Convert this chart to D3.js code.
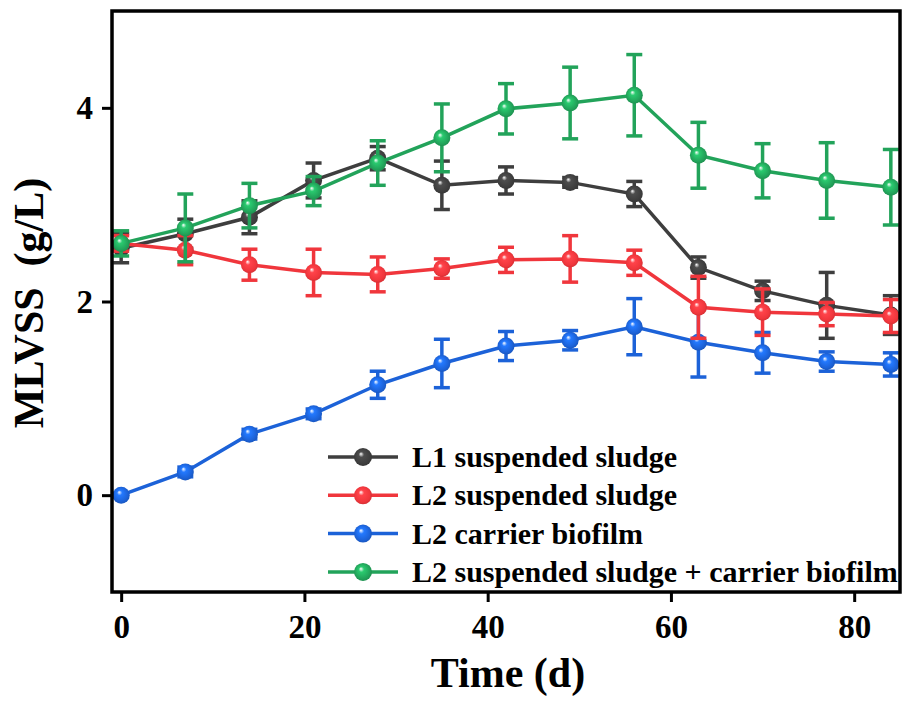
<!DOCTYPE html>
<html lang="en">
  <head>
    <meta charset="utf-8" />
    <script src="https://d3js.org/d3.v7.min.js"></script>
    <style type="text/css">
      body {
        margin: 0;
        background-color: white;
      }
      svg text {
        font-family: "Liberation Serif", "Times New Roman", serif;
        font-weight: bold;
        fill: black;
      }
    </style>
  </head>

  <body>
    <svg id="chart" width="904" height="702"></svg>

    <script>
      // sampling days
      let days = [0, 7, 14, 21, 28, 35, 42, 49, 56, 63, 70, 77, 84];

      // MLVSS (g/L) mean and error per series
      let l1Sludge = [2.55, 2.7, 2.87, 3.25, 3.48, 3.2, 3.25, 3.23, 3.11, 2.35, 2.11, 1.96, 1.86];
      let l1SludgeErr = [0.15, 0.15, 0.17, 0.18, 0.12, 0.25, 0.14, 0.05, 0.13, 0.11, 0.1, 0.34, 0.2];

      let l2Sludge = [2.6, 2.53, 2.38, 2.3, 2.28, 2.34, 2.43, 2.44, 2.4, 1.94, 1.89, 1.87, 1.85];
      let l2SludgeErr = [0.08, 0.15, 0.16, 0.24, 0.18, 0.1, 0.13, 0.24, 0.13, 0.32, 0.24, 0.12, 0.17];

      let l2Biofilm = [0, 0.24, 0.63, 0.84, 1.14, 1.36, 1.54, 1.6, 1.74, 1.58, 1.47, 1.38, 1.35];
      let l2BiofilmErr = [0.02, 0.05, 0.05, 0.05, 0.14, 0.25, 0.15, 0.1, 0.29, 0.36, 0.21, 0.1, 0.12];

      let l2Total = [2.6, 2.76, 2.99, 3.14, 3.43, 3.69, 3.99, 4.05, 4.13, 3.51, 3.35, 3.25, 3.18];
      let l2TotalErr = [0.13, 0.35, 0.23, 0.15, 0.23, 0.35, 0.26, 0.37, 0.42, 0.34, 0.28, 0.39, 0.39];

      let seriesNames = [
        "L1 suspended sludge",
        "L2 suspended sludge",
        "L2 carrier biofilm",
        "L2 suspended sludge + carrier biofilm",
      ];
      let seriesColors = ["#3e3e3e", "#f0363c", "#1c62d8", "#22a35a"];

      let xTicks = [0, 20, 40, 60, 80];
      let yTicks = [0, 2, 4];

      let series = [
        { name: seriesNames[0], color: seriesColors[0], mean: l1Sludge, err: l1SludgeErr },
        { name: seriesNames[1], color: seriesColors[1], mean: l2Sludge, err: l2SludgeErr },
        { name: seriesNames[2], color: seriesColors[2], mean: l2Biofilm, err: l2BiofilmErr },
        { name: seriesNames[3], color: seriesColors[3], mean: l2Total, err: l2TotalErr },
      ];
      // order the series are painted in (later on top)
      let drawOrder = [0, 2, 1, 3];

      let plotLeft = 112, plotRight = 900, plotTop = 11, plotBottom = 592;
      let svg = d3.select("#chart");

      let x = d3.scaleLinear([-1, 85], [plotLeft, plotRight]);
      let y = d3.scaleLinear([-1, 5], [plotBottom, plotTop]);

      // sphere-like marker gradients
      let defs = svg.append("defs");
      series.forEach(function (s, i) {
        let g = defs
          .append("radialGradient")
          .attr("id", "ball" + i)
          .attr("cx", "0.5")
          .attr("cy", "0.5")
          .attr("r", "0.6")
          .attr("fx", "0.38")
          .attr("fy", "0.32");
        g.append("stop").attr("offset", "0").attr("stop-color", "#ffffff");
        g.append("stop").attr("offset", "0.25").attr("stop-color", d3.color(s.color).brighter(0.6));
        g.append("stop").attr("offset", "0.7").attr("stop-color", s.color);
        g.append("stop").attr("offset", "1").attr("stop-color", d3.color(s.color).darker(0.6));
      });

      // axes
      let xAxis = d3.axisBottom(x).tickValues(xTicks).tickSize(10).tickSizeOuter(0).tickPadding(13)
        .tickFormat(d3.format("d"));
      let yAxis = d3.axisLeft(y).tickValues(yTicks).tickSize(10).tickSizeOuter(0).tickPadding(9)
        .tickFormat(d3.format("d"));

      let gx = svg.append("g").attr("transform", "translate(0," + plotBottom + ")").call(xAxis);
      let gy = svg.append("g").attr("transform", "translate(" + plotLeft + ",0)").call(yAxis);
      [gx, gy].forEach(function (g) {
        g.select(".domain").remove();
        g.selectAll(".tick line").attr("stroke", "black").attr("stroke-width", 3);
        g.selectAll(".tick text").style("font-size", "33px");
      });

      let line = d3
        .line()
        .x(function (d) { return x(d[0]); })
        .y(function (d) { return y(d[1]); });

      drawOrder.forEach(function (i) {
        let s = series[i];
        let pts = days.map(function (d, k) { return [d, s.mean[k], s.err[k]]; });
        let g = svg.append("g");

        g.append("path")
          .attr("d", line(pts))
          .attr("fill", "none")
          .attr("stroke", s.color)
          .attr("stroke-width", 3.5);

        let eb = g.selectAll(".err").data(pts).enter().append("g");
        eb.append("line")
          .attr("x1", function (d) { return x(d[0]); })
          .attr("x2", function (d) { return x(d[0]); })
          .attr("y1", function (d) { return y(d[1] - d[2]); })
          .attr("y2", function (d) { return y(d[1] + d[2]); });
        eb.append("line")
          .attr("x1", function (d) { return x(d[0]) - 8; })
          .attr("x2", function (d) { return x(d[0]) + 8; })
          .attr("y1", function (d) { return y(d[1] + d[2]); })
          .attr("y2", function (d) { return y(d[1] + d[2]); });
        eb.append("line")
          .attr("x1", function (d) { return x(d[0]) - 8; })
          .attr("x2", function (d) { return x(d[0]) + 8; })
          .attr("y1", function (d) { return y(d[1] - d[2]); })
          .attr("y2", function (d) { return y(d[1] - d[2]); });
        eb.selectAll("line").attr("stroke", s.color).attr("stroke-width", 3.5);

        g.selectAll("circle")
          .data(pts)
          .enter()
          .append("circle")
          .attr("cx", function (d) { return x(d[0]); })
          .attr("cy", function (d) { return y(d[1]); })
          .attr("r", 8.5)
          .attr("fill", "url(#ball" + i + ")");
      });

      // frame
      svg.append("rect")
        .attr("x", plotLeft)
        .attr("y", plotTop)
        .attr("width", plotRight - plotLeft)
        .attr("height", plotBottom - plotTop)
        .attr("fill", "none")
        .attr("stroke", "black")
        .attr("stroke-width", 3.5);

      // legend
      let legend = svg.append("g");
      series.forEach(function (s, i) {
        let ly = 457 + i * 38.3;
        legend.append("line")
          .attr("x1", 328).attr("x2", 398)
          .attr("y1", ly).attr("y2", ly)
          .attr("stroke", s.color)
          .attr("stroke-width", 3.5);
        legend.append("circle")
          .attr("cx", 363).attr("cy", ly).attr("r", 9)
          .attr("fill", "url(#ball" + i + ")");
        legend.append("text")
          .attr("x", 412)
          .attr("y", ly + 10)
          .style("font-size", "30px")
          .text(s.name);
      });

      // axis titles
      svg.append("text")
        .attr("x", 508)
        .attr("y", 687)
        .attr("text-anchor", "middle")
        .style("font-size", "42px")
        .text("Time (d)");

      svg.append("text")
        .attr("transform", "translate(43,303) rotate(-90)")
        .attr("text-anchor", "middle")
        .style("font-size", "42px")
        .style("white-space", "pre")
        .text("MLVSS  (g/L)");
    </script>
  </body>
</html>
